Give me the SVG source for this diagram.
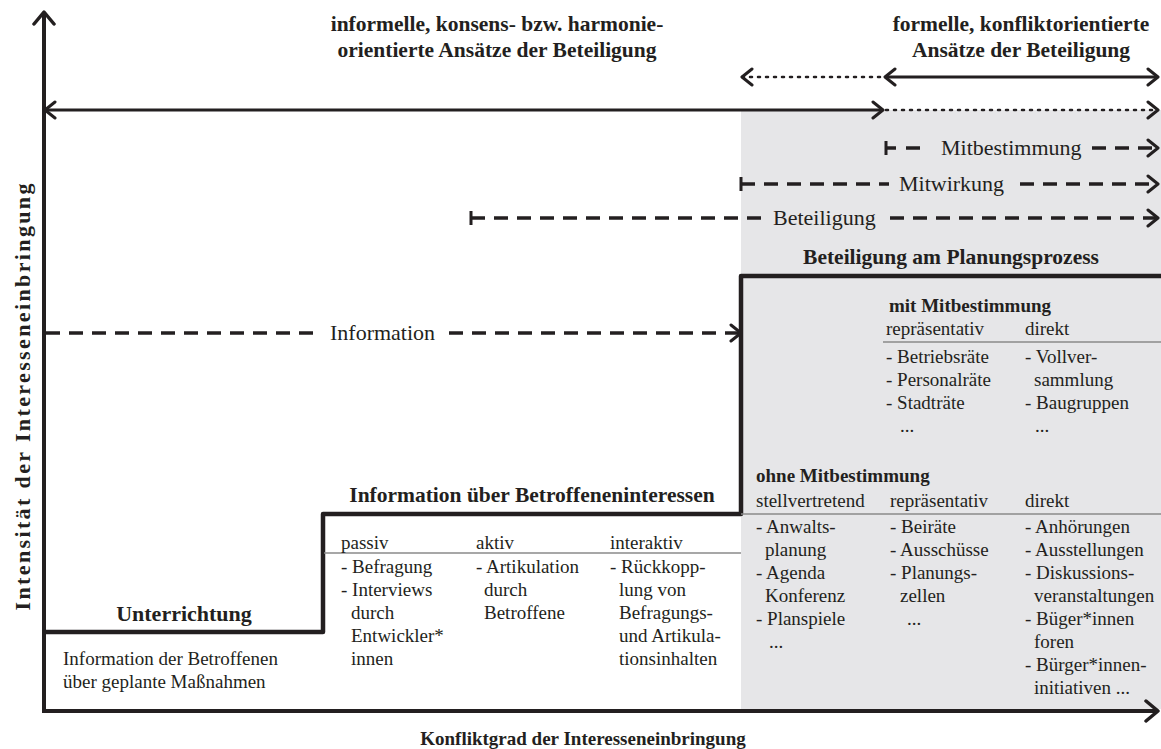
<svg xmlns="http://www.w3.org/2000/svg" width="1161" height="749" viewBox="0 0 1161 749">
<style>
text{font-family:"Liberation Serif","Times New Roman",serif;fill:#231f20;font-size:19px}
.b{font-weight:bold}
.h{font-weight:bold;font-size:21.5px}
.lab{font-size:22px}
.ax{fill:none;stroke:#231f20;stroke-width:4}
.step{fill:none;stroke:#231f20;stroke-width:4.5;stroke-linejoin:round}
.ln{fill:none;stroke:#231f20;stroke-width:3}
.dot{fill:none;stroke:#231f20;stroke-width:2.5;stroke-dasharray:2 6;stroke-linecap:round}
.dash{fill:none;stroke:#231f20;stroke-width:3.5;stroke-dasharray:14 9}
.sep{fill:none;stroke:#8a8a8a;stroke-width:1.5}
</style>
<defs>
<marker id="chev" viewBox="0 0 14 20" refX="12" refY="10" markerWidth="14" markerHeight="20" orient="auto-start-reverse" markerUnits="userSpaceOnUse">
<path d="M2,2 L12,10 L2,18" fill="none" stroke="#231f20" stroke-width="3" stroke-linecap="round" stroke-linejoin="round"/>
</marker>
<marker id="chevA" viewBox="0 0 16 24" refX="14" refY="12" markerWidth="16" markerHeight="24" orient="auto-start-reverse" markerUnits="userSpaceOnUse">
<path d="M2,2 L14,12 L2,22" fill="none" stroke="#231f20" stroke-width="3.5" stroke-linecap="round" stroke-linejoin="round"/>
</marker>
<marker id="tee" viewBox="0 0 4 16" refX="2" refY="8" markerWidth="4" markerHeight="16" orient="auto" markerUnits="userSpaceOnUse">
<path d="M2,1 V15" stroke="#231f20" stroke-width="3"/>
</marker>
</defs>

<rect id="gray-area" x="741" y="110" width="420" height="599" fill="#e6e6e8"/>

<g id="headings">
<text class="h" x="497" y="31" text-anchor="middle">informelle, konsens- bzw. harmonie-</text>
<text class="h" x="497" y="57" text-anchor="middle">orientierte Ansätze der Beteiligung</text>
<text class="h" x="1021" y="31" text-anchor="middle">formelle, konfliktorientierte</text>
<text class="h" x="1021" y="57" text-anchor="middle">Ansätze der Beteiligung</text>
</g>

<g id="connectors">
<path class="ax" d="M44,712 V12" marker-end="url(#chevA)"/>
<path class="ax" d="M42,711 H1158" marker-end="url(#chevA)"/>
<path class="dot" d="M742,77 H884" marker-start="url(#chev)"/>
<path class="ln" d="M885,77 H1158" marker-start="url(#chev)" marker-end="url(#chev)"/>
<path class="ln" d="M45,110 H883" marker-start="url(#chev)" marker-end="url(#chev)"/>
<path class="dot" d="M886,110 H1158" marker-end="url(#chev)"/>
<path class="dash" d="M886,148 H896" marker-start="url(#tee)"/>
<path class="dash" d="M906,148 H925"/>
<path class="dash" d="M1092,148 H1158" marker-end="url(#chev)"/>
<path class="dash" d="M741,184 H889" marker-start="url(#tee)"/>
<path class="dash" d="M1020,184 H1158" marker-end="url(#chev)"/>
<path class="dash" d="M471,218 H763" marker-start="url(#tee)"/>
<path class="dash" d="M890,218 H1158" marker-end="url(#chev)"/>
<path class="dash" d="M46,333 H316" />
<path class="dash" d="M449,333 H741" marker-end="url(#chev)"/>
<text class="lab" x="941" y="155">Mitbestimmung</text>
<text class="lab" x="899" y="191">Mitwirkung</text>
<text class="lab" x="773" y="225">Beteiligung</text>
<text class="lab" x="330" y="340">Information</text>
<path class="step" d="M44,632 H323 V514 H741 V276 H1161"/>
</g>

<g id="node-unterrichtung">
<text class="h" x="184" y="621" text-anchor="middle" style="font-size:22px">Unterrichtung</text>
<text x="63" y="665">Information der Betroffenen</text>
<text x="63" y="688">über geplante Maßnahmen</text>
</g>

<g id="node-information">
<text class="h" x="532" y="502" text-anchor="middle">Information über Betroffeneninteressen</text>
<path class="sep" d="M324,553 H741"/>
<text x="341" y="549">passiv</text>
<text x="476" y="549">aktiv</text>
<text x="610" y="549">interaktiv</text>
<text x="341" y="573">- Befragung</text>
<text x="341" y="596">- Interviews</text>
<text x="351" y="619">durch</text>
<text x="351" y="642">Entwickler*</text>
<text x="351" y="665">innen</text>
<text x="476" y="573">- Artikulation</text>
<text x="484" y="596">durch</text>
<text x="484" y="619">Betroffene</text>
<text x="610" y="573">- Rückkopp-</text>
<text x="619" y="596">lung von</text>
<text x="619" y="619">Befragungs-</text>
<text x="619" y="642">und Artikula-</text>
<text x="619" y="665">tionsinhalten</text>
</g>

<g id="node-beteiligung">
<text class="h" x="951" y="264" text-anchor="middle">Beteiligung am Planungsprozess</text>
<text class="b" x="889" y="312">mit Mitbestimmung</text>
<text x="886" y="335">repräsentativ</text>
<text x="1025" y="335">direkt</text>
<path class="sep" d="M883,342 H1161"/>
<text x="886" y="363">- Betriebsräte</text>
<text x="886" y="386">- Personalräte</text>
<text x="886" y="409">- Stadträte</text>
<text x="900" y="432">...</text>
<text x="1025" y="363">- Vollver-</text>
<text x="1034" y="386">sammlung</text>
<text x="1025" y="409">- Baugruppen</text>
<text x="1035" y="432">...</text>

<text class="b" x="756" y="482">ohne Mitbestimmung</text>
<text x="756" y="507">stellvertretend</text>
<text x="890" y="507">repräsentativ</text>
<text x="1025" y="507">direkt</text>
<path class="sep" d="M741,514 H1161"/>
<text x="756" y="533">- Anwalts-</text>
<text x="765" y="556">planung</text>
<text x="756" y="579">- Agenda</text>
<text x="765" y="602">Konferenz</text>
<text x="756" y="625">- Planspiele</text>
<text x="769" y="648">...</text>
<text x="890" y="533">- Beiräte</text>
<text x="890" y="556">- Ausschüsse</text>
<text x="890" y="579">- Planungs-</text>
<text x="900" y="602">zellen</text>
<text x="907" y="625">...</text>
<text x="1025" y="533">- Anhörungen</text>
<text x="1025" y="556">- Ausstellungen</text>
<text x="1025" y="579">- Diskussions-</text>
<text x="1034" y="602">veranstaltungen</text>
<text x="1025" y="625">- Büger*innen</text>
<text x="1034" y="648">foren</text>
<text x="1025" y="671">- Bürger*innen-</text>
<text x="1034" y="694">initiativen ...</text>
</g>

<g id="axis-labels">
<text class="b" transform="translate(30,397) rotate(-90)" text-anchor="middle" textLength="427" lengthAdjust="spacing" style="font-size:22px">Intensität der Interesseneinbringung</text>
<text class="b" x="583" y="745" text-anchor="middle">Konfliktgrad der Interesseneinbringung</text>
</g>
</svg>
